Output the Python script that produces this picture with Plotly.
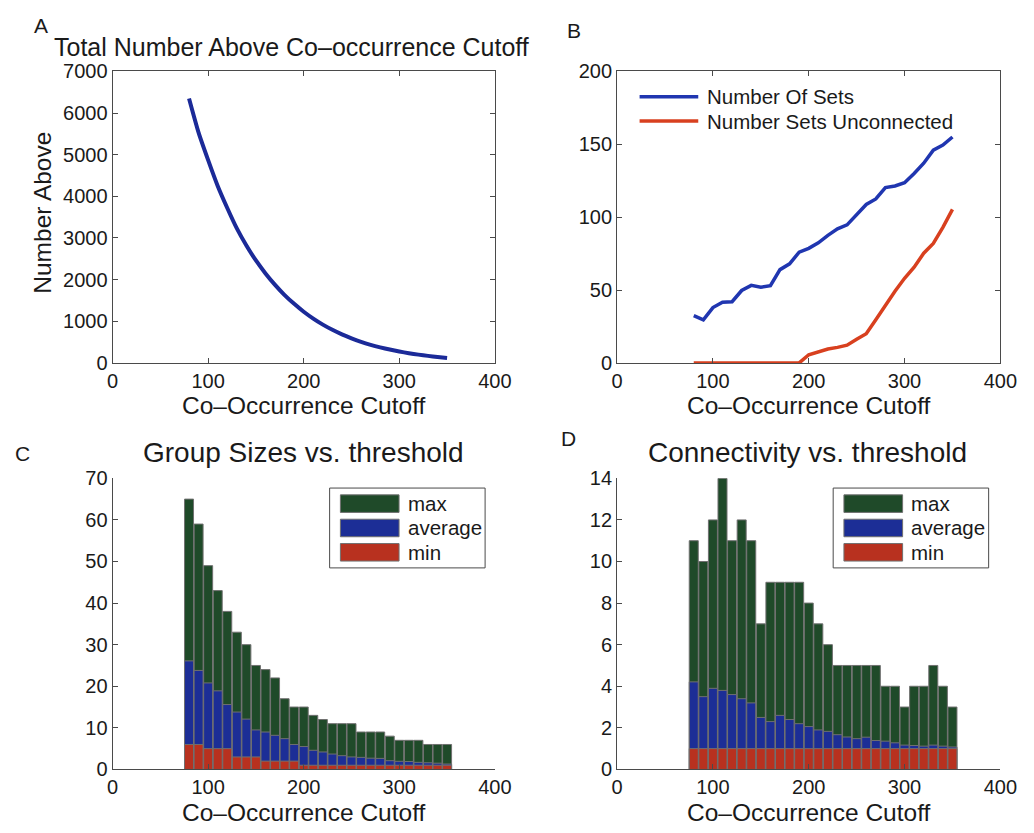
import plotly.graph_objects as go

W, H = 1034, 833
FONT = "Liberation Sans, Arial, Helvetica, sans-serif"

# ---- data -------------------------------------------------------------
cutoff = [80, 90, 100, 110, 120, 130, 140, 150, 160, 170, 180, 190, 200, 210,
          220, 230, 240, 250, 260, 270, 280, 290, 300, 310, 320, 330, 340, 350]

number_above = [6350, 5530, 4870, 4250, 3720, 3230, 2820, 2460, 2150, 1875,
                1630, 1420, 1230, 1065, 920, 795, 685, 590, 505, 435,
                375, 322, 275, 235, 200, 170, 143, 120]

number_of_sets = [32.5, 29.6, 38, 41.6, 42, 49.7, 53.2, 51.9, 53, 64,
                  68, 76, 78.6, 82.4, 87.5, 92, 94.7, 102, 108.7, 112.5,
                  120.3, 121.4, 123.6, 130, 137, 146, 149.4, 155]
sets_unconnected = [0, 0, 0, 0, 0, 0, 0, 0, 0, 0,
                    0, 0, 5.6, 7.8, 9.6, 10.7, 12.2, 16.3, 20, 29.6,
                    39.6, 49.2, 58.1, 65.7, 75.3, 82, 93, 105.3]

group_max = [65, 59, 49, 43, 38, 33, 30, 25, 24, 22, 17, 15, 15, 13,
             12, 11, 11, 11, 9, 9, 9, 8, 7, 7, 7, 6, 6, 6]
group_avg = [26.1, 23.8, 20.8, 18.9, 15.6, 13.8, 12.1, 9.5, 9.0, 8.2,
             7.4, 6.0, 5.5, 4.6, 4.2, 3.7, 3.3, 3.0, 2.9, 2.7,
             2.65, 2.1, 1.95, 1.9, 1.7, 1.6, 1.5, 1.3]
group_min = [6, 6, 5, 5, 5, 3, 3, 3, 2, 2, 2, 2, 1, 1,
             1, 1, 1, 1, 1, 1, 1, 1, 1, 1, 1, 1, 1, 1]

conn_max = [11, 10, 12, 14, 11, 12, 11, 7, 9, 9, 9, 9, 8, 7,
            6, 5, 5, 5, 5, 5, 4, 4, 3, 4, 4, 5, 4, 3]
conn_avg = [4.21, 3.5, 3.9, 3.8, 3.6, 3.4, 3.2, 2.5, 2.3, 2.6,
            2.4, 2.2, 2.06, 1.9, 1.83, 1.67, 1.56, 1.48, 1.55, 1.39,
            1.36, 1.28, 1.17, 1.15, 1.12, 1.17, 1.12, 1.08]
conn_min = [1] * 28

x_ticks = [0, 100, 200, 300, 400]

GREEN = "#1f4a29"
BLUE_BAR = "#1c2e96"
RED_BAR = "#b8311f"
EDGE = "#707070"
LINE_A = "#1b2a98"
LINE_BLUE = "#2036b0"
LINE_RED = "#d8401f"
AXIS = "#4a4a4a"
TEXT = "#1a1a1a"


def px_x(p):
    return p / W


def px_y(p):
    return 1 - p / H


fig = go.Figure()

# ---- panel A ----------------------------------------------------------
fig.add_trace(go.Scatter(x=cutoff, y=number_above, mode="lines",
                         line=dict(color=LINE_A, width=4, shape="spline",
                                   smoothing=0.6),
                         xaxis="x", yaxis="y", showlegend=False))

# ---- panel B ----------------------------------------------------------
fig.add_trace(go.Scatter(x=cutoff, y=number_of_sets, mode="lines",
                         line=dict(color=LINE_BLUE, width=3.5),
                         xaxis="x2", yaxis="y2", showlegend=False,
                         name="Number Of Sets"))
fig.add_trace(go.Scatter(x=cutoff, y=sets_unconnected, mode="lines",
                         line=dict(color=LINE_RED, width=3.5),
                         xaxis="x2", yaxis="y2", showlegend=False,
                         name="Number Sets Unconnected"))

# ---- panels C and D (overlaid bars) ----------------------------------
for vals, col, name in [(group_max, GREEN, "max"),
                        (group_avg, BLUE_BAR, "average"),
                        (group_min, RED_BAR, "min")]:
    fig.add_trace(go.Bar(x=cutoff, y=vals, width=9.4, name=name,
                         marker=dict(color=col, line=dict(color=EDGE, width=1)),
                         xaxis="x3", yaxis="y3", showlegend=False))
for vals, col, name in [(conn_max, GREEN, "max"),
                        (conn_avg, BLUE_BAR, "average"),
                        (conn_min, RED_BAR, "min")]:
    fig.add_trace(go.Bar(x=cutoff, y=vals, width=9.4, name=name,
                         marker=dict(color=col, line=dict(color=EDGE, width=1)),
                         xaxis="x4", yaxis="y4", showlegend=False))

tickfont = dict(family=FONT, size=20, color=TEXT)


def xax(domain, anchor, boxed):
    return dict(domain=domain, anchor=anchor, range=[0, 400], tickvals=x_ticks,
                ticks="inside", ticklen=5, tickcolor=AXIS, showline=True,
                linecolor=AXIS, linewidth=1, mirror="ticks" if boxed else False,
                showgrid=False, zeroline=False, tickfont=tickfont,
                fixedrange=True)


def yax(domain, anchor, rng, dtick, boxed):
    return dict(domain=domain, anchor=anchor, range=rng, dtick=dtick, tick0=0,
                ticks="inside", ticklen=5, tickcolor=AXIS, showline=True,
                linecolor=AXIS, linewidth=1, mirror="ticks" if boxed else False,
                showgrid=False, zeroline=False, tickfont=tickfont,
                fixedrange=True)


xA = [px_x(109), px_x(500)]
xB = [px_x(625), px_x(1017)]
yTop = [px_y(361.5), px_y(62)]
yBot = [px_y(779), px_y(480)]

fig.update_layout(
    width=W, height=H,
    margin=dict(l=0, r=0, t=0, b=0),
    paper_bgcolor="white", plot_bgcolor="white",
    barmode="overlay",
    font=dict(family=FONT, color=TEXT),
    xaxis=xax(xA, "y", True),
    yaxis=yax(yTop, "x", [0, 7000], 1000, True),
    xaxis2=xax(xB, "y2", True),
    yaxis2=yax(yTop, "x2", [0, 200], 50, True),
    xaxis3=xax(xA, "y3", False),
    yaxis3=yax(yBot, "x3", [0, 70], 10, False),
    xaxis4=xax(xB, "y4", False),
    yaxis4=yax(yBot, "x4", [0, 14], 2, False),
)

annotations = []
shapes = []


def text(x, y, s, size, angle=0, xanchor="center"):
    annotations.append(dict(x=px_x(x), y=px_y(y), xref="paper", yref="paper",
                            text=s, showarrow=False, xanchor=xanchor,
                            yanchor="middle", textangle=angle,
                            font=dict(family=FONT, size=size, color=TEXT)))


# panel letters and titles
text(36, 15, "A", 21)
text(581, 20, "B", 21)
text(17, 455, "C", 21)
text(575, 439, "D", 21)
text(292, 37, "Total Number Above Co\u2013occurrence Cutoff", 25)
text(304, 453, "Group Sizes vs. threshold", 28)
text(820, 453, "Connectivity vs. threshold", 28)

# axis titles
text(304.5, 405, "Co\u2013Occurrence Cutoff", 24.5)
text(821, 405, "Co\u2013Occurrence Cutoff", 24.5)
text(304.5, 823, "Co\u2013Occurrence Cutoff", 24.5)
text(821, 823, "Co\u2013Occurrence Cutoff", 24.5)
text(37, 207, "Number Above", 24.5, angle=-90)

# legend of panel B
for yy, col, label in [(88, LINE_BLUE, "Number Of Sets"),
                       (113, LINE_RED, "Number Sets Unconnected")]:
    shapes.append(dict(type="line", xref="paper", yref="paper",
                       x0=px_x(648), x1=px_x(708), y0=px_y(yy), y1=px_y(yy),
                       line=dict(color=col, width=3.5)))
    text(715, yy, label, 20.5, xanchor="left")

# boxed legends of panels C and D
for left, right in [(331, 490), (846, 1005)]:
    shapes.append(dict(type="rect", xref="paper", yref="paper",
                       x0=px_x(left), x1=px_x(right), y0=px_y(572), y1=px_y(490),
                       line=dict(color=AXIS, width=1), fillcolor="white"))
    for yy, col, label in [(506, GREEN, "max"), (531, BLUE_BAR, "average"),
                           (556, RED_BAR, "min")]:
        shapes.append(dict(type="rect", xref="paper", yref="paper",
                           x0=px_x(left + 11), x1=px_x(left + 71),
                           y0=px_y(yy + 9), y1=px_y(yy - 9),
                           line=dict(color=EDGE, width=1), fillcolor=col))
        text(left + 78, yy, label, 20.5, xanchor="left")

fig.update_layout(annotations=annotations, shapes=shapes)

fig.write_html("out.html")
